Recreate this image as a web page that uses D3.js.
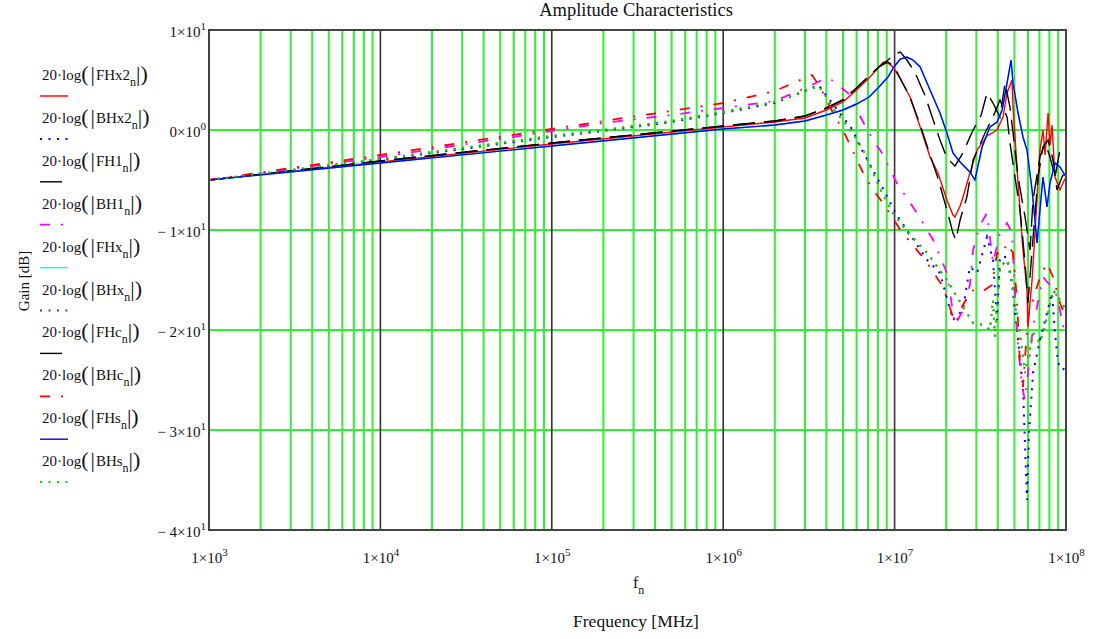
<!DOCTYPE html>
<html>
<head>
<meta charset="UTF-8">
<style>
  body { margin: 0; background: #fff; }
  text { font-family: "Liberation Serif", "Times New Roman", serif; fill: #111; }
</style>
</head>
<body>
<div id="chart"></div>
<script src="https://d3js.org/d3.v7.min.js"></script>
<script>
// ---- data (frequency, gain in dB) ----
const FHx2 = [[1e3,-5],[1e4,-3.2],[1e5,-1.4],[1e6,0.3],[2e6,0.8],[3e6,1.2],[4e6,2.0],[5e6,2.8],[6e6,4.0],[7.1e6,5.2],[8.1e6,6.3],[8.6e6,6.8],[9.15e6,6.7],[9.9e6,6.2],[1.08e7,5.1],[1.23e7,3.3],[1.41e7,0.3],[1.61e7,-2.7],[1.79e7,-4.3],[2.02e7,-7],[2.19e7,-8.5],[2.25e7,-8.7],[2.41e7,-7.6],[2.51e7,-6.7],[2.75e7,-4.3],[3.03e7,-2],[3.46e7,-0.6],[3.96e7,0],[4.29e7,1.3],[4.53e7,3.7],[4.84e7,5],[4.91e7,2.3],[5.25e7,-5.3],[5.61e7,-12],[5.92e7,-16],[6.0e7,-19.7],[6.34e7,-15],[6.59e7,-10.3],[7.05e7,-2],[7.34e7,0],[7.55e7,-2.5],[7.86e7,1.7],[8.07e7,-1.5],[8.29e7,0.5],[8.63e7,-4.7],[9.22e7,-6],[9.6e7,-5.3],[1e8,-4.7]];
const BHx2 = [[1e3,-5],[1e4,-3.0],[1e5,-0.7],[2e5,-0.1],[5e5,0.8],[1e6,1.7],[2e6,2.7],[3e6,3.9],[3.6e6,4.5],[4.1e6,3.2],[5.7e6,0],[6.3e6,-1.7],[7.1e6,-3.3],[8.45e6,-5.7],[1.03e7,-8.5],[1.55e7,-13],[1.84e7,-14.3],[2.19e7,-19],[2.5e7,-18],[2.75e7,-13.7],[3.03e7,-14.3],[3.46e7,-10.7],[3.75e7,-13],[3.96e7,-19],[4.12e7,-12.7],[4.53e7,-12.7],[4.84e7,-15.3],[5.25e7,-21],[5.61e7,-25.7],[5.92e7,-37],[6.08e7,-30.3],[6.42e7,-24.3],[7.05e7,-21],[7.75e7,-18.3],[8.29e7,-16.3],[8.63e7,-20.3],[8.98e7,-23.3],[9.6e7,-24],[1e8,-23.5]];
const FH1 = [[1e3,-5],[1e4,-3.1],[1e5,-1.3],[1e6,0.4],[2e6,0.9],[3e6,1.4],[4e6,2.2],[5e6,3.0],[6e6,4.2],[7.1e6,5.4],[8.1e6,6.3],[9.15e6,6.8],[9.9e6,6.4],[1.23e7,3.3],[1.41e7,0.5],[1.61e7,-2.5],[1.79e7,-4.8],[2.02e7,-8],[2.19e7,-10.3],[2.28e7,-11],[2.41e7,-9],[2.64e7,-6.7],[2.87e7,-3],[3.37e7,-0.3],[3.75e7,1.3],[4.12e7,3],[4.53e7,1.3],[4.71e7,-1.3],[5.04e7,-4.7],[5.39e7,-8],[5.77e7,-13.3],[6.0e7,-17.3],[6.34e7,-12],[6.87e7,-4.7],[7.34e7,-1.7],[7.86e7,-1],[8.4e7,-3],[8.86e7,-6],[9.48e7,-4.7],[1e8,-4]];
const BH1 = [[1e3,-5],[1e4,-2.7],[1e5,-0.1],[2e5,0.7],[5e5,1.5],[1e6,2.2],[2e6,2.9],[3e6,4.2],[4e6,5.2],[4.3e6,5.0],[5.35e6,3.7],[6.55e6,0.8],[7.5e6,-1],[8.45e6,-2.3],[1.03e7,-5.3],[1.35e7,-8.3],[1.68e7,-11],[2.02e7,-14.3],[2.25e7,-19.5],[2.51e7,-18],[2.75e7,-15.5],[2.87e7,-12],[3.15e7,-9.5],[3.46e7,-8.3],[3.75e7,-13.3],[4.12e7,-10.3],[4.53e7,-9.3],[4.84e7,-10.3],[5.18e7,-20.3],[5.54e7,-25.7],[5.77e7,-27],[6.42e7,-19.7],[7.34e7,-14.7],[7.86e7,-15.3],[8.63e7,-16],[9.22e7,-18],[9.6e7,-19.7],[1e8,-18.5]];
const FHc = [[1e3,-5],[1e4,-3.1],[1e5,-1.3],[1e6,0.4],[2e6,0.9],[3e6,1.4],[4e6,2.2],[5e6,3.0],[6e6,4.2],[7.1e6,5.4],[8.1e6,6.3],[9.15e6,7.0],[1.0e7,7.6],[1.08e7,7.8],[1.18e7,7.0],[1.31e7,5.8],[1.5e7,3.5],[1.68e7,1.0],[1.84e7,-1.0],[2.02e7,-2.8],[2.25e7,-3.6],[2.5e7,-2.3],[2.87e7,0],[3.2e7,1.5],[3.46e7,3.7],[3.75e7,2.7],[4.12e7,1.3],[4.41e7,4.7],[4.71e7,2.3],[4.91e7,-0.3],[5.25e7,-4.7],[5.77e7,-8.7],[6.17e7,-12],[6.42e7,-7],[7.05e7,-2.7],[7.55e7,-1.3],[8.07e7,-2.7],[8.63e7,-4.7],[9.22e7,-2],[1e8,-2]];
const BHc = [[1e3,-5],[1e4,-2.5],[1e5,0.1],[2e5,0.9],[5e5,1.9],[1e6,2.7],[2e6,3.9],[3e6,5.2],[3.3e6,5.5],[3.7e6,4.2],[4e6,3.0],[4.5e6,1.3],[5e6,0],[5.5e6,-1.5],[6.55e6,-4.3],[7.5e6,-6],[8.55e6,-7.3],[1.1e7,-10.2],[1.28e7,-11.5],[1.55e7,-13.3],[1.92e7,-15.7],[2.19e7,-18.7],[2.28e7,-19.3],[2.5e7,-17.5],[2.83e7,-16],[3.15e7,-16.3],[3.7e7,-15.5],[3.96e7,-12.3],[4.24e7,-12.5],[4.53e7,-11.3],[4.91e7,-12.3],[5.18e7,-17],[5.39e7,-23.7],[5.61e7,-25.7],[6.0e7,-18.7],[6.42e7,-17],[7.05e7,-14.7],[7.75e7,-13.3],[8.4e7,-14.7],[9.22e7,-17.3],[9.6e7,-18],[1e8,-17]];
const FHs = [[1e3,-5],[1e4,-3.3],[1e5,-1.6],[1e6,0.1],[2e6,0.5],[3e6,0.9],[4e6,1.5],[5e6,2.0],[6e6,2.6],[7.1e6,3.3],[8.1e6,4.3],[9.15e6,5.3],[9.9e6,6.3],[1.08e7,7.1],[1.18e7,7.3],[1.28e7,7.0],[1.41e7,6.3],[1.61e7,4],[1.84e7,1.7],[2.02e7,-0.3],[2.19e7,-2.3],[2.41e7,-3.2],[2.75e7,-4.2],[2.94e7,-5],[3.03e7,-4],[3.24e7,-1.7],[3.6e7,0.3],[3.96e7,0.8],[4.24e7,2],[4.53e7,4.7],[4.78e7,7],[4.91e7,4.7],[5.25e7,1.7],[5.61e7,-0.7],[5.92e7,-2],[6.34e7,-6],[6.78e7,-11.3],[7.05e7,-8],[7.34e7,-4.7],[7.75e7,-7.7],[8.07e7,-5.3],[8.63e7,-3.3],[9.22e7,-3.7],[1e8,-4.7]];
const BHs = [[1e3,-5],[1e4,-2.9],[1e5,-0.6],[2e5,0],[5e5,0.9],[1e6,1.8],[2e6,2.8],[3e6,3.9],[3.6e6,4.4],[3.9e6,3.6],[4.5e6,1.8],[5e6,1.0],[5.7e6,-0.3],[6.55e6,-2],[7.5e6,-4.3],[8.45e6,-6.3],[9.8e6,-8.3],[1.2e7,-10.3],[1.55e7,-12.3],[2.02e7,-15],[2.51e7,-17.7],[2.87e7,-19.3],[3.3e7,-19.5],[3.6e7,-20],[3.75e7,-17],[3.85e7,-20.7],[4.12e7,-13.7],[4.53e7,-13],[4.91e7,-15.7],[5.39e7,-20.3],[5.77e7,-24.3],[6.42e7,-20.3],[7.05e7,-21.3],[7.75e7,-18.7],[8.4e7,-16],[9.22e7,-17],[1e8,-18]];
// FHx and BHx are not visible in the picture: they lie under FHs and BHs
const FHx = FHs;
const BHx = BHs;

const seriesNames = ["FHx2","BHx2","FH1","BH1","FHx","BHx","FHc","BHc","FHs","BHs"];
const seriesData = [FHx2, BHx2, FH1, BH1, FHx, BHx, FHc, BHc, FHs, BHs];

const freqTicks = [1e3,1e4,1e5,1e6,1e7,1e8];
const freqTickExp = ["3","4","5","6","7","8"];
const gainTicks = [10,0,-10,-20,-30,-40];
const gainTickMant = ["1\u00d710","0\u00d710","\u2212 1\u00d710","\u2212 2\u00d710","\u2212 3\u00d710","\u2212 4\u00d710"];
const gainTickExp = ["1","0","1","1","1","1"];

// trace styles, in the same order as the series
const colors = ["#ff0000","#0000ff","#000000","#ff00ff","#00ffff","#804000","#000000","#ff0000","#0000ff","#00dd00"];
const dashes = [null,"2,6.5","22,9","10,11,2,11",null,"2,6.5","22,9","10,11,2,11",null,"2,6.5"];
const widths = [1.4,2,1.4,1.8,1.4,2,1.4,1.8,1.4,2];

// ---- layout ----
const W = 1097, H = 639;
const margin = { top: 30, right: 31, bottom: 109, left: 209 },
    width = W - margin.left - margin.right,
    height = H - margin.top - margin.bottom;

const svg = d3.select("#chart").append("svg")
    .attr("width", W).attr("height", H);

const g = svg.append("g")
    .attr("transform", "translate(" + margin.left + "," + margin.top + ")");

const x = d3.scaleLog().domain([1e3, 1e8]).range([0, width]);
const y = d3.scaleLinear().domain([-40, 10]).range([height, 0]);

// minor vertical grid (2..9 in every decade)
const minorTicks = x.ticks().filter(d => freqTicks.indexOf(d) < 0);
g.append("g").selectAll("line").data(minorTicks).enter().append("line")
    .attr("x1", d => x(d)).attr("x2", d => x(d))
    .attr("y1", 0).attr("y2", height)
    .attr("stroke", "#33ee33").attr("stroke-width", 2);

// horizontal grid
g.append("g").selectAll("line").data(gainTicks.slice(1, -1)).enter().append("line")
    .attr("x1", 0).attr("x2", width)
    .attr("y1", d => y(d)).attr("y2", d => y(d))
    .attr("stroke", "#33ee33").attr("stroke-width", 2);

// decade lines
g.append("g").selectAll("line").data(freqTicks.slice(1, -1)).enter().append("line")
    .attr("x1", d => x(d)).attr("x2", d => x(d))
    .attr("y1", 0).attr("y2", height)
    .attr("stroke", "#333").attr("stroke-width", 1.6);

// traces
g.append("clipPath").attr("id", "clip")
    .append("rect").attr("width", width).attr("height", height);

const line = d3.line()
    .x(d => x(d[0]))
    .y(d => y(d[1]));

g.append("g").attr("clip-path", "url(#clip)")
    .selectAll("path").data(seriesData).enter().append("path")
    .attr("d", line)
    .attr("fill", "none")
    .attr("stroke", (d, i) => colors[i])
    .attr("stroke-width", (d, i) => widths[i])
    .attr("stroke-dasharray", (d, i) => dashes[i]);

// frame
g.append("rect")
    .attr("width", width).attr("height", height)
    .attr("fill", "none").attr("stroke", "#444").attr("stroke-width", 2);

// x tick labels
const xAxis = g.append("g")
    .attr("transform", "translate(0," + height + ")")
    .call(d3.axisBottom(x).tickValues(freqTicks).tickSize(0).tickFormat(""));
xAxis.select(".domain").remove();
xAxis.selectAll(".tick").append("text")
    .attr("y", 33)
    .attr("text-anchor", "middle")
    .style("font-size", "15px")
    .each(function (d, i) {
        const t = d3.select(this);
        t.append("tspan").text("1\u00d710");
        t.append("tspan").attr("dy", -7).style("font-size", "11px").text(freqTickExp[i]);
    });

// y tick labels
const yAxis = g.append("g")
    .call(d3.axisLeft(y).tickValues(gainTicks).tickSize(0).tickFormat(""));
yAxis.select(".domain").remove();
yAxis.selectAll(".tick").append("text")
    .attr("x", -3)
    .attr("dy", "0.45em")
    .attr("text-anchor", "end")
    .style("font-size", "15px")
    .each(function (d, i) {
        const t = d3.select(this);
        t.append("tspan").text(gainTickMant[i]);
        t.append("tspan").attr("dy", -7).style("font-size", "11px").text(gainTickExp[i]);
    });

// titles
svg.append("text")
    .attr("x", 636).attr("y", 16)
    .attr("text-anchor", "middle")
    .style("font-size", "18.5px")
    .text("Amplitude Characteristics");

const fLabel = svg.append("text")
    .attr("x", 633).attr("y", 588)
    .style("font-size", "16px");
fLabel.append("tspan").text("f");
fLabel.append("tspan").attr("dy", 6).style("font-size", "12px").text("n");

svg.append("text")
    .attr("x", 636).attr("y", 627)
    .attr("text-anchor", "middle")
    .style("font-size", "17.5px")
    .text("Frequency [MHz]");

svg.append("text")
    .attr("transform", "translate(29,281) rotate(-90)")
    .attr("text-anchor", "middle")
    .style("font-size", "15px")
    .text("Gain [dB]");

// legend
const legend = svg.selectAll(".legend")
    .data(seriesNames)
    .enter().append("g")
    .attr("class", "legend")
    .attr("transform", (d, i) => "translate(0," + (i * 42.9) + ")");

const lt = legend.append("text")
    .attr("x", 42).attr("y", 80)
    .style("font-size", "15px");
lt.append("tspan").text("20\u00b7log");
lt.append("tspan").style("font-size", "22px").attr("dy", 1).text("(");
lt.append("tspan").style("font-size", "22px").attr("dx", 2).text("|");
lt.append("tspan").attr("dx", 1).attr("dy", -1).text(d => d);
lt.append("tspan").attr("dy", 6).style("font-size", "12px").text("n");
lt.append("tspan").style("font-size", "22px").attr("dy", -5).text("|");
lt.append("tspan").style("font-size", "22px").text(")");

legend.append("line")
    .attr("x1", 40).attr("x2", 68)
    .attr("y1", 96).attr("y2", 96)
    .attr("stroke", (d, i) => colors[i])
    .attr("stroke-width", (d, i) => widths[i])
    .attr("stroke-dasharray", (d, i) => dashes[i]);
</script>
</body>
</html>
